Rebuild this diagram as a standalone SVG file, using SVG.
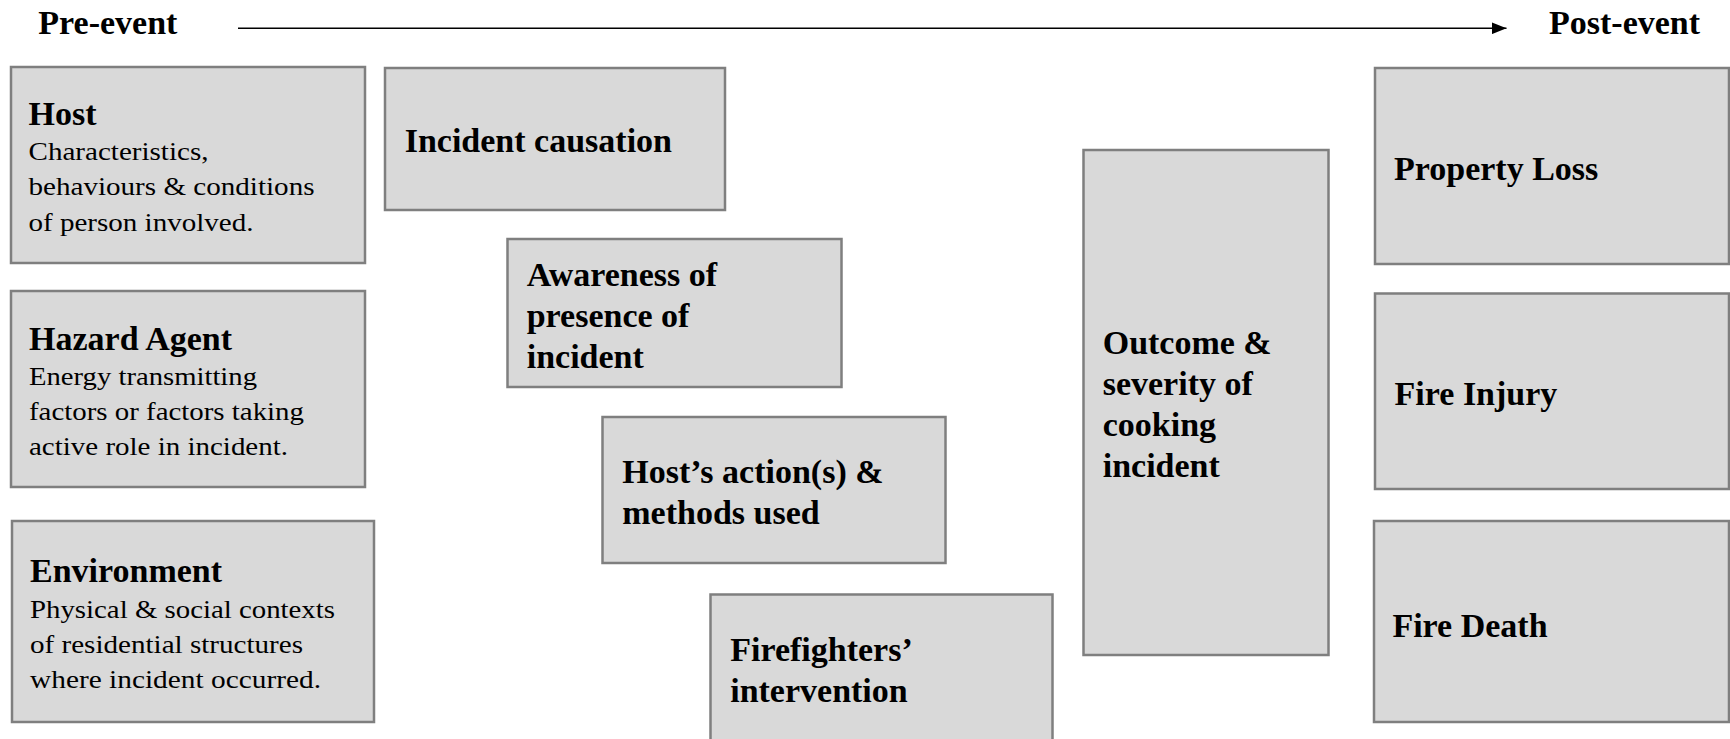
<svg xmlns="http://www.w3.org/2000/svg" width="1730" height="739" viewBox="0 0 1730 739">
<style>
.box{fill:#d9d9d9;stroke:#7f7f7f;stroke-width:2.5}
.b{font-family:"Liberation Serif","Times New Roman",serif;font-weight:bold;font-size:34px;fill:#000}
.r{font-family:"Liberation Serif","Times New Roman",serif;font-size:24.5px;fill:#000}
</style>
<defs>
<marker id="ah" markerWidth="15" markerHeight="12" refX="15" refY="6" orient="auto" markerUnits="userSpaceOnUse">
<path d="M0,0 L15,6 L0,12 Z" fill="#000"/>
</marker>
</defs>
<rect width="1730" height="739" fill="#fff"/>
<g id="connectors">
<line x1="238" y1="28.3" x2="1506.5" y2="28.3" stroke="#000" stroke-width="1.6" marker-end="url(#ah)"/>
</g>
<g id="pre-event"><text class="b" x="38.3" y="33.5">Pre-event</text></g>
<g id="post-event"><text class="b" x="1549" y="33.5">Post-event</text></g>
<g id="host">
<rect class="box" x="11" y="67" width="354" height="196"/>
<text class="b" x="28.5" y="124.5">Host</text>
<text class="r" x="28.5" y="159.5" textLength="180" lengthAdjust="spacingAndGlyphs">Characteristics,</text>
<text class="r" x="28.5" y="195" textLength="286" lengthAdjust="spacingAndGlyphs">behaviours &amp; conditions</text>
<text class="r" x="28.5" y="231" textLength="225" lengthAdjust="spacingAndGlyphs">of person involved.</text>
</g>
<g id="hazard">
<rect class="box" x="11" y="291" width="354" height="196"/>
<text class="b" x="29" y="350">Hazard Agent</text>
<text class="r" x="29" y="385" textLength="228" lengthAdjust="spacingAndGlyphs">Energy transmitting</text>
<text class="r" x="29" y="420" textLength="275" lengthAdjust="spacingAndGlyphs">factors or factors taking</text>
<text class="r" x="29" y="455" textLength="259" lengthAdjust="spacingAndGlyphs">active role in incident.</text>
</g>
<g id="environment">
<rect class="box" x="12" y="521" width="362" height="201"/>
<text class="b" x="30" y="582">Environment</text>
<text class="r" x="30" y="617.5" textLength="305" lengthAdjust="spacingAndGlyphs">Physical &amp; social contexts</text>
<text class="r" x="30" y="652.5" textLength="273" lengthAdjust="spacingAndGlyphs">of residential structures</text>
<text class="r" x="30" y="687.5" textLength="291" lengthAdjust="spacingAndGlyphs">where incident occurred.</text>
</g>
<g id="incident-causation">
<rect class="box" x="385" y="68" width="340" height="142"/>
<text class="b" x="404.7" y="151.7">Incident causation</text>
</g>
<g id="awareness">
<rect class="box" x="507.5" y="239" width="334" height="148"/>
<text class="b" x="526.7" y="285.5">Awareness of</text>
<text class="b" x="526.7" y="326.7">presence of</text>
<text class="b" x="526.7" y="367.7">incident</text>
</g>
<g id="hosts-action">
<rect class="box" x="602.5" y="417" width="343" height="146"/>
<text class="b" x="622.3" y="483.3">Host’s action(s) &amp;</text>
<text class="b" x="622.3" y="524">methods used</text>
</g>
<g id="firefighters">
<rect class="box" x="710.5" y="594.5" width="342" height="160"/>
<text class="b" x="730.2" y="660.7">Firefighters’</text>
<text class="b" x="730.2" y="701.7">intervention</text>
</g>
<g id="outcome">
<rect class="box" x="1083.5" y="150" width="245" height="505"/>
<text class="b" x="1102.7" y="354">Outcome &amp;</text>
<text class="b" x="1102.7" y="395">severity of</text>
<text class="b" x="1102.7" y="436">cooking</text>
<text class="b" x="1102.7" y="477">incident</text>
</g>
<g id="property-loss">
<rect class="box" x="1375" y="68" width="354" height="196"/>
<text class="b" x="1394" y="180">Property Loss</text>
</g>
<g id="fire-injury">
<rect class="box" x="1375" y="293.5" width="354" height="195.5"/>
<text class="b" x="1394.6" y="405">Fire Injury</text>
</g>
<g id="fire-death">
<rect class="box" x="1374" y="521" width="355" height="201"/>
<text class="b" x="1392.4" y="636.7">Fire Death</text>
</g>
</svg>
